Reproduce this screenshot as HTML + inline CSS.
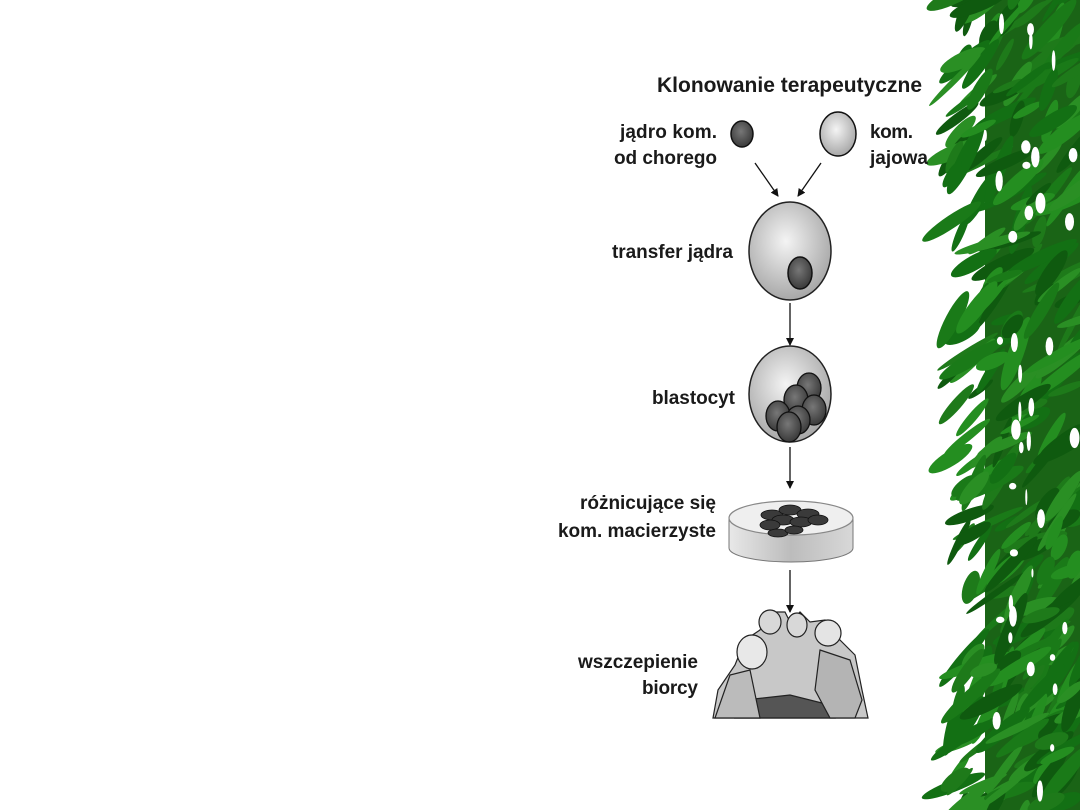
<!DOCTYPE html>
<html><head><meta charset="utf-8"><style>
html,body{margin:0;padding:0;background:#fff;width:1080px;height:810px;overflow:hidden}
svg{display:block}
text{font-family:"Liberation Sans",sans-serif;font-weight:bold;fill:#1a1a1a}
</style></head><body>
<svg id="s" width="1080" height="810" viewBox="0 0 1080 810" xmlns="http://www.w3.org/2000/svg">
<defs>
<radialGradient id="lg" cx="0.45" cy="0.4" r="0.6"><stop offset="0" stop-color="#f4f4f4"/><stop offset="1" stop-color="#a8a8a8"/></radialGradient>
<radialGradient id="dg" cx="0.45" cy="0.4" r="0.6"><stop offset="0" stop-color="#777"/><stop offset="1" stop-color="#3a3a3a"/></radialGradient>
<linearGradient id="dish" x1="0" x2="1"><stop offset="0" stop-color="#e8e8e8"/><stop offset="0.5" stop-color="#bcbcbc"/><stop offset="1" stop-color="#d8d8d8"/></linearGradient>
<marker id="ar" markerWidth="8" markerHeight="8" refX="7" refY="4" orient="auto" markerUnits="userSpaceOnUse"><path d="M0,0 L8,4 L0,8 z" fill="#111"/></marker>
</defs>
<g id="bamboo"><rect x="985" y="0" width="95" height="810" fill="#1a6416"/></g>

<text x="922" y="92" font-size="21" text-anchor="end" textLength="265">Klonowanie terapeutyczne</text>
<text x="717" y="138" font-size="19" text-anchor="end" textLength="97">jądro kom.</text>
<text x="717" y="164" font-size="19" text-anchor="end" textLength="103">od chorego</text>
<text x="870" y="138" font-size="19" textLength="43">kom.</text>
<text x="870" y="164" font-size="19" textLength="58">jajowa</text>
<ellipse cx="742" cy="134" rx="11" ry="13" fill="url(#dg)" stroke="#111" stroke-width="1.5"/>
<ellipse cx="838" cy="134" rx="18" ry="22" fill="url(#lg)" stroke="#111" stroke-width="1.5"/>
<line x1="755" y1="163" x2="778" y2="196" stroke="#111" stroke-width="1.3" marker-end="url(#ar)"/>
<line x1="821" y1="163" x2="798" y2="196" stroke="#111" stroke-width="1.3" marker-end="url(#ar)"/>

<ellipse cx="790" cy="251" rx="41" ry="49" fill="url(#lg)" stroke="#222" stroke-width="1.5"/>
<ellipse cx="800" cy="273" rx="12" ry="16" fill="url(#dg)" stroke="#111" stroke-width="1.5"/>
<text x="733" y="258" font-size="19" text-anchor="end" textLength="121">transfer jądra</text>
<line x1="790" y1="303" x2="790" y2="345" stroke="#111" stroke-width="1.3" marker-end="url(#ar)"/>

<ellipse cx="790" cy="394" rx="41" ry="48" fill="url(#lg)" stroke="#222" stroke-width="1.5"/>
<g fill="url(#dg)" stroke="#111" stroke-width="1.3">
<ellipse cx="809" cy="388" rx="12" ry="15"/>
<ellipse cx="796" cy="400" rx="12" ry="15"/>
<ellipse cx="778" cy="416" rx="12" ry="15"/>
<ellipse cx="814" cy="410" rx="12" ry="15"/>
<ellipse cx="798" cy="420" rx="12" ry="14"/>
<ellipse cx="789" cy="427" rx="12" ry="15"/>
</g>
<text x="735" y="404" font-size="19" text-anchor="end" textLength="83">blastocyt</text>
<line x1="790" y1="447" x2="790" y2="488" stroke="#111" stroke-width="1.3" marker-end="url(#ar)"/>

<path d="M729,518 L729,548 A62,14 0 0 0 853,548 L853,518 Z" fill="url(#dish)" stroke="#777" stroke-width="1"/>
<ellipse cx="791" cy="518" rx="62" ry="17" fill="#efefef" stroke="#888" stroke-width="1.2"/>
<g fill="#3a3a3a" stroke="#111" stroke-width="0.8">
<ellipse cx="772" cy="515" rx="11" ry="5"/><ellipse cx="790" cy="510" rx="11" ry="5"/><ellipse cx="808" cy="514" rx="11" ry="5"/>
<ellipse cx="783" cy="520" rx="11" ry="5"/><ellipse cx="801" cy="522" rx="11" ry="5"/><ellipse cx="818" cy="520" rx="10" ry="5"/>
<ellipse cx="770" cy="525" rx="10" ry="5"/><ellipse cx="778" cy="533" rx="10" ry="4"/><ellipse cx="794" cy="530" rx="9" ry="4"/>
</g>
<text x="716" y="509" font-size="19" text-anchor="end" textLength="136">różnicujące się</text>
<text x="716" y="537" font-size="19" text-anchor="end" textLength="158">kom. macierzyste</text>
<line x1="790" y1="570" x2="790" y2="612" stroke="#111" stroke-width="1.3" marker-end="url(#ar)"/>

<g stroke="#222" stroke-width="1.2">
<path d="M713,718 L718,690 L735,665 L745,640 L760,630 L768,612 L785,612 L790,622 L800,612 L810,622 L825,620 L840,640 L855,655 L862,690 L868,718 Z" fill="#c8c8c8"/>
<ellipse cx="770" cy="622" rx="11" ry="12" fill="#d8d8d8"/>
<ellipse cx="797" cy="625" rx="10" ry="12" fill="#d8d8d8"/>
<ellipse cx="828" cy="633" rx="13" ry="13" fill="#e4e4e4"/>
<ellipse cx="752" cy="652" rx="15" ry="17" fill="#e8e8e8"/>
<path d="M745,700 L790,695 L830,705 L835,718 L735,718 Z" fill="#555"/>
<path d="M715,718 L730,675 L750,670 L760,718 Z" fill="#bbb"/>
<path d="M820,650 L850,660 L862,700 L855,718 L830,718 L815,690 Z" fill="#b4b4b4"/>
</g>
<text x="698" y="668" font-size="19" text-anchor="end" textLength="120">wszczepienie</text>
<text x="698" y="694" font-size="19" text-anchor="end" textLength="56">biorcy</text>
</svg>
<script>
(function(){
var g=document.getElementById('bamboo'),ns='http://www.w3.org/2000/svg',seed=7;
function r(){seed=(seed*16807)%2147483647;return seed/2147483647;}
var cols=['#0f5a0f','#1a7a18','#248e20','#2a8f24','#137014','#1e7a1a'];
for(var i=0;i<300;i++){
 var y=r()*830-10,x=950+r()*135;
 var e=document.createElementNS(ns,'ellipse');
 e.setAttribute('cx',x);e.setAttribute('cy',y);
 e.setAttribute('rx',14+r()*26);e.setAttribute('ry',3+r()*5);
 e.setAttribute('fill',cols[Math.floor(r()*cols.length)]);
 e.setAttribute('transform','rotate('+(-75+r()*60)+' '+x+' '+y+')');
 g.appendChild(e);
}
for(var j=0;j<40;j++){
 var x2=985+r()*95,y2=r()*810;
 var w=document.createElementNS(ns,'ellipse');
 w.setAttribute('cx',x2);w.setAttribute('cy',y2);w.setAttribute('rx',1+r()*4);w.setAttribute('ry',3+r()*8);
 w.setAttribute('fill','#fff');g.appendChild(w);
}
})();
</script>
</body></html>
